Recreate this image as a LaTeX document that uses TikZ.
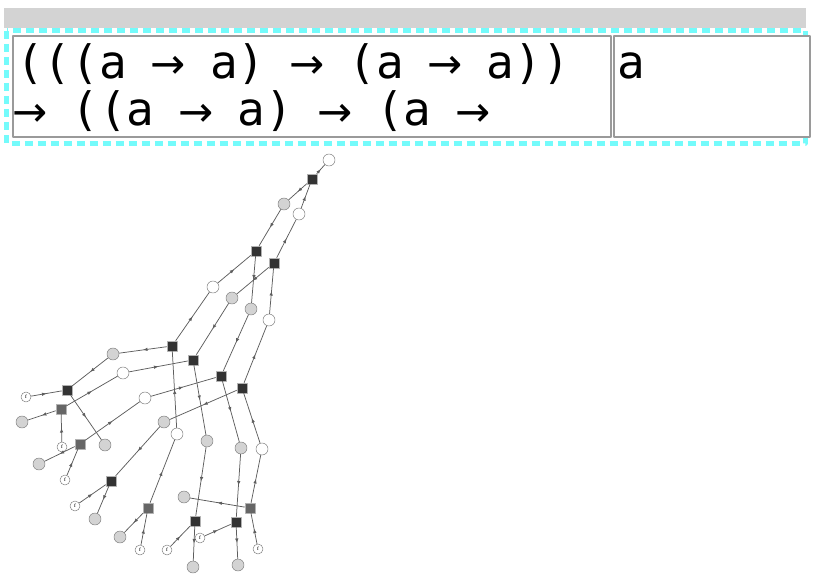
\documentclass[tikz,border=0pt]{standalone}
\usepackage{fontspec}
\newfontfamily\typefont{DejaVu Sans Mono}
\newfontfamily\arrowfont{DejaVu Sans}
\newcommand\tyarr{\makebox[0.602em][c]{\raisebox{-1pt}{\arrowfont\fontsize{42}{42}\selectfont →}}}
\usetikzlibrary{decorations.markings,arrows.meta}
\definecolor{barGray}{HTML}{D3D3D3}
\definecolor{dashCyan}{HTML}{74FBFB}
\definecolor{cellLine}{HTML}{9A9A9A}
\definecolor{edgeGray}{HTML}{5E5E5E}
\definecolor{sqDark}{HTML}{333333}
\definecolor{sqMid}{HTML}{666666}
\definecolor{circGray}{HTML}{D3D3D3}
\tikzset{
  link/.style={draw=edgeGray,line width=0.75pt,postaction={decorate},
    decoration={markings,mark=at position 0.5 with {\arrow{Latex[length=4.5pt,width=3.5pt]}}}},
  sqdark/.style={rectangle,fill=sqDark,draw=gray!60,line width=0.5pt,minimum size=10pt,inner sep=0pt},
  sqmid/.style={rectangle,fill=sqMid,draw=gray!60,line width=0.5pt,minimum size=10pt,inner sep=0pt},
  cgray/.style={circle,fill=circGray,draw=gray,line width=0.5pt,minimum size=12pt,inner sep=0pt},
  cwhite/.style={circle,fill=white,draw=gray,line width=0.5pt,minimum size=12pt,inner sep=0pt},
  cfree/.style={circle,fill=white,draw=gray,line width=0.5pt,minimum size=10pt,inner sep=0pt,font=\fontsize{5}{5}\selectfont},
  typetext/.style={anchor=base west,inner sep=0pt,font=\typefont\fontsize{46}{47}\selectfont}
}
\begin{document}
\begin{tikzpicture}[x=1pt,y=-1pt,join=round] %Type graph under the cell
        \useasboundingbox (0,0) rectangle (820,586);
        \fill[barGray](4,8) rectangle (806,28);
        \draw[dashCyan,line width=5pt,dash pattern=on 8pt off 5pt](6.5,31) rectangle (805,143);
        \draw[cellLine,fill=white,line width=2pt](13,36) rectangle (611,137);
        \draw[cellLine,fill=white,line width=2pt](614,36) rectangle (810,137);
        \node[typetext] (lineA) at (16,78) {(((a \tyarr{} a) \tyarr{} (a \tyarr{} a))};
        \node[typetext] (lineB) at (16,125) {\tyarr{} ((a \tyarr{} a) \tyarr{} (a \tyarr};
        \node[typetext] (result) at (617,78) {a};
        % level 0 to 2
        \node[cwhite] (w0) at (329,160) {};
        \node[sqdark] (s0) at (312,179) {};
        \node[cgray] (g1) at (284,204) {};
        \node[cwhite] (w1) at (299,214) {};
        \node[sqdark] (s1) at (256,251) {};
        \node[sqdark] (s2) at (274,263) {};
        \node[cwhite] (w2) at (213,287) {};
        \node[cgray] (g2) at (232,298) {};
        \node[cgray] (g3) at (251,309) {};
        \node[cwhite] (w3) at (269,320) {};
        % level 3
        \node[sqdark] (s3) at (172,346) {};
        \node[sqdark] (s4) at (193,360) {};
        \node[sqdark] (s5) at (221,376) {};
        \node[sqdark] (s6) at (242,388) {};
        \node[cgray] (g4) at (113,354) {};
        \node[cwhite] (w5) at (123,373) {};
        \node[cwhite] (w6) at (145,398) {};
        \node[cgray] (g5) at (164,422) {};
        \node[cwhite] (w4) at (177,434) {};
        \node[cgray] (g6) at (207,441) {};
        \node[cgray] (g7) at (241,448) {};
        \node[cwhite] (w7) at (262,449) {};
        % level 4
        \node[sqdark] (s7) at (67,390) {};
        \node[sqmid] (s8) at (61,409) {};
        \node[sqmid] (s9) at (80,444) {};
        \node[sqdark] (s10) at (111,481) {};
        \node[sqmid] (s11) at (148,508) {};
        \node[sqdark] (s12) at (195,521) {};
        \node[sqdark] (s13) at (236,522) {};
        \node[sqmid] (s14) at (250,508) {};
        % leaves
        \node[cfree] (f1) at (26,397) {f};
        \node[cgray] (g8) at (105,445) {};
        \node[cgray] (g9) at (22,422) {};
        \node[cfree] (f2) at (62,447) {f};
        \node[cgray] (g10) at (39,464) {};
        \node[cfree] (f3) at (65,480) {f};
        \node[cfree] (f4) at (75,506) {f};
        \node[cgray] (g11) at (95,519) {};
        \node[cgray] (g12) at (120,537) {};
        \node[cfree] (f5) at (140,550) {f};
        \node[cfree] (f6) at (167,550) {f};
        \node[cgray] (g13) at (193,567) {};
        \node[cfree] (f7) at (200,538) {f};
        \node[cgray] (g14) at (238,565) {};
        \node[cgray] (g15) at (184,497) {};
        \node[cfree] (f8) at (258,549) {f};
        % edges
        \draw[link](s0)--(w0); \draw[link](s0)--(g1); \draw[link](w1)--(s0);
        \draw[link](g1)--(s1); \draw[link](s2)--(w1);
        \draw[link](w2)--(s1); \draw[link](s1)--(g3); \draw[link](s2)--(g2); \draw[link](w3)--(s2);
        \draw[link](s3)--(w2); \draw[link](g2)--(s4); \draw[link](g3)--(s5); \draw[link](s6)--(w3);
        \draw[link](s3)--(g4); \draw[link](w4)--(s3); \draw[link](w5)--(s4); \draw[link](s4)--(g6);
        \draw[link](w6)--(s5); \draw[link](s5)--(g7); \draw[link](s6)--(g5); \draw[link](w7)--(s6);
        \draw[link](g4)--(s7); \draw[link](s8)--(w5); \draw[link](s9)--(w6); \draw[link](g5)--(s10);
        \draw[link](s11)--(w4); \draw[link](g6)--(s12); \draw[link](g7)--(s13); \draw[link](s14)--(w7);
        \draw[link](f1)--(s7); \draw[link](s7)--(g8);
        \draw[link](s8)--(g9); \draw[link](f2)--(s8);
        \draw[link](s9)--(g10); \draw[link](f3)--(s9);
        \draw[link](f4)--(s10); \draw[link](s10)--(g11);
        \draw[link](s11)--(g12); \draw[link](f5)--(s11);
        \draw[link](f6)--(s12); \draw[link](s12)--(g13);
        \draw[link](f7)--(s13); \draw[link](s13)--(g14);
        \draw[link](s14)--(g15); \draw[link](f8)--(s14);
\end{tikzpicture}
\end{document}
